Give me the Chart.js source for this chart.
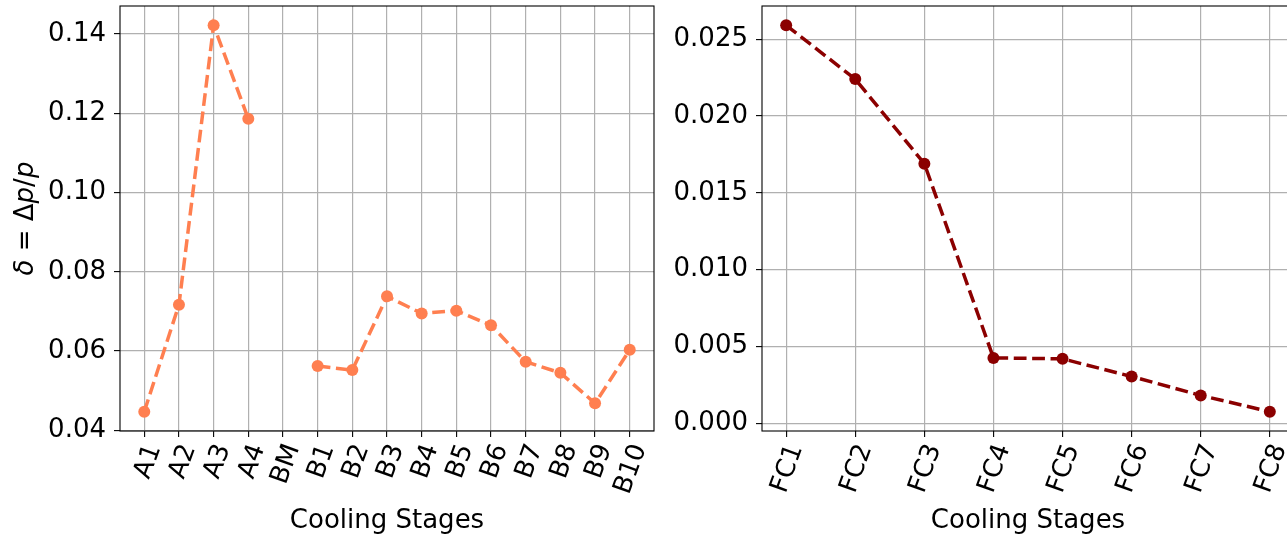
<!DOCTYPE html>
<html lang="en">
<head>
<meta charset="UTF-8" />
<title>Cooling Stages</title>
<script src="https://cdn.jsdelivr.net/npm/chart.js@4.4.0/dist/chart.umd.min.js"></script>
<style>
    html, body { margin: 0; padding: 0; background: #fff; overflow: hidden; width: 1287px; height: 537px; }
    #left { position: absolute; left: 0; top: 0; }
    #right { position: absolute; left: 660px; top: 0; }
</style>
</head>
<body>
<canvas id="left" width="660" height="537"></canvas>
<canvas id="right" width="640" height="537"></canvas>
<script>
    // left panel: stages A / BM / B
    var stagesA = ["A1", "A2", "A3", "A4", "BM", "B1", "B2", "B3", "B4", "B5", "B6", "B7", "B8", "B9", "B10"];
    var deltaA = [0.0447, 0.0717, 0.1422, 0.1186, null, 0.0562, 0.0552, 0.0738, 0.0695, 0.0702, 0.0665, 0.0573, 0.0545, 0.0468, 0.0603];
    var yTicksA = [0.04, 0.06, 0.08, 0.10, 0.12, 0.14];

    // right panel: final cooling
    var stagesFC = ["FC1", "FC2", "FC3", "FC4", "FC5", "FC6", "FC7", "FC8"];
    var deltaFC = [0.0259, 0.0224, 0.0169, 0.00426, 0.0042, 0.00305, 0.00182, 0.00076];
    var yTicksFC = [0.000, 0.005, 0.010, 0.015, 0.020, 0.025];

    var FONT = "'DejaVu Sans', sans-serif";
    var FSIZE = 26;
    var GRID = "#b0b0b0";

    function points(values) {
        return values.map(function (v, i) { return { x: i, y: v }; });
    }

    function limits(values) {
        var v = values.filter(function (d) { return d !== null; });
        var lo = Math.min.apply(null, v), hi = Math.max.apply(null, v);
        var m = (hi - lo) * 0.05;
        return [lo - m, hi + m];
    }

    var framePlugin = {
        id: "frame",
        afterDatasetsDraw: function (chart) {
            var a = chart.chartArea, ctx = chart.ctx;
            ctx.save();
            ctx.strokeStyle = "#000";
            ctx.lineWidth = 1.1;
            ctx.strokeRect(a.left, a.top, a.right - a.left, a.bottom - a.top);
            ctx.restore();
        }
    };

    // y title with math italics: δ = Δp/p
    var yTitlePlugin = {
        id: "ytitle",
        afterDraw: function (chart) {
            var parts = [["δ", "italic"], [" = ", "normal"], ["Δ", "normal"], ["p", "italic"], ["/", "normal"], ["p", "italic"]];
            var ctx = chart.ctx, a = chart.chartArea;
            ctx.save();
            var total = 0;
            parts.forEach(function (p) {
                ctx.font = p[1] + " " + FSIZE + "px " + FONT;
                total += ctx.measureText(p[0]).width;
            });
            ctx.translate(26, (a.top + a.bottom) / 2);
            ctx.rotate(-Math.PI / 2);
            ctx.fillStyle = "#000";
            ctx.textBaseline = "middle";
            var x = -total / 2;
            parts.forEach(function (p) {
                ctx.font = p[1] + " " + FSIZE + "px " + FONT;
                ctx.fillText(p[0], x, 0);
                x += ctx.measureText(p[0]).width;
            });
            ctx.restore();
        }
    };

    function makeChart(id, labels, values, yTicks, color, yWidth, padRight, decimals, extraPlugins) {
        var ylim = limits(values);
        var n = labels.length - 1;
        return new Chart(document.getElementById(id), {
            type: "line",
            data: {
                datasets: [{
                    data: points(values),
                    borderColor: color,
                    backgroundColor: color,
                    borderWidth: 3.5,
                    borderDash: [12.8, 5.6],
                    pointRadius: 6,
                    pointHoverRadius: 6,
                    pointBorderWidth: 0,
                    spanGaps: false,
                    tension: 0
                }]
            },
            options: {
                responsive: false,
                animation: false,
                layout: { padding: { top: 6, right: padRight, bottom: 0, left: 0 } },
                plugins: { legend: { display: false }, tooltip: { enabled: false } },
                scales: {
                    x: {
                        type: "linear",
                        min: -0.05 * n,
                        max: n + 0.05 * n,
                        afterBuildTicks: function (s) {
                            s.ticks = labels.map(function (_, i) { return { value: i }; });
                        },
                        afterFit: function (s) {
                            s.height = 106;
                            s.paddingLeft = 0;
                            s.paddingRight = 0;
                        },
                        border: { display: false },
                        grid: { color: GRID, lineWidth: 1.2, tickColor: "#000", tickLength: 6, tickWidth: 1.1 },
                        ticks: {
                            color: "#000",
                            font: { family: FONT, size: FSIZE },
                            minRotation: 70,
                            maxRotation: 70,
                            autoSkip: false,
                            padding: 3,
                            labelOffset: 10,
                            callback: function (v) { return labels[v]; }
                        },
                        title: {
                            display: true,
                            text: "Cooling Stages",
                            color: "#000",
                            font: { family: FONT, size: FSIZE },
                            padding: 0
                        }
                    },
                    y: {
                        min: ylim[0],
                        max: ylim[1],
                        afterBuildTicks: function (s) {
                            s.ticks = yTicks.map(function (v) { return { value: v }; });
                        },
                        afterFit: function (s) {
                            s.width = yWidth;
                            s.paddingTop = 0;
                            s.paddingBottom = 0;
                        },
                        border: { display: false },
                        grid: { color: GRID, lineWidth: 1.2, tickColor: "#000", tickLength: 6, tickWidth: 1.1 },
                        ticks: {
                            color: "#000",
                            font: { family: FONT, size: FSIZE },
                            padding: 8,
                            callback: function (v) { return v.toFixed(decimals); }
                        }
                    }
                }
            },
            plugins: [framePlugin].concat(extraPlugins)
        });
    }

    makeChart("left", stagesA, deltaA, yTicksA, "#ff7f50", 120, 5, 2, [yTitlePlugin]);
    makeChart("right", stagesFC, deltaFC, yTicksFC, "#8b0000", 102, 3, 3, []);
</script>
</body>
</html>
